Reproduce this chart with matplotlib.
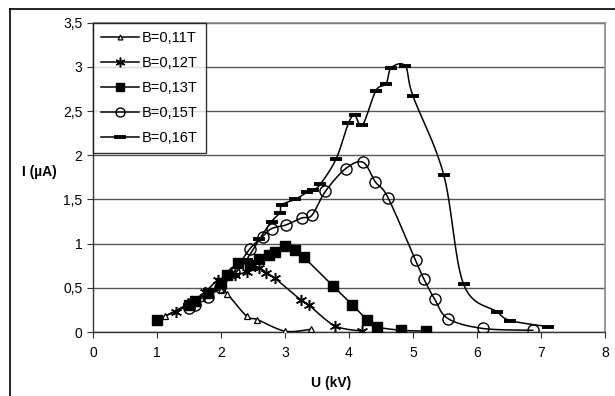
import matplotlib.pyplot as plt
import numpy as np
from matplotlib.lines import Line2D

plt.rcParams['font.family'] = ['Liberation Sans', 'DejaVu Sans']

# voltage U (kV) and current I (uA) for each magnetic field value
u_011 = [1.13, 1.5, 1.7, 2.0, 2.1, 2.4, 2.57, 3.0, 3.4]
i_011 = [0.18, 0.32, 0.38, 0.48, 0.43, 0.18, 0.14, 0.01, 0.03]

u_012 = [1.3, 1.55, 1.75, 1.96, 2.22, 2.4, 2.6, 2.7, 2.84, 3.25, 3.38, 3.78, 4.21]
i_012 = [0.23, 0.35, 0.45, 0.59, 0.64, 0.68, 0.72, 0.67, 0.61, 0.36, 0.30, 0.07, 0.01]

u_013 = [1.0, 1.5, 1.6, 1.8, 2.0, 2.1, 2.27, 2.45, 2.6, 2.75, 2.85, 3.0, 3.16, 3.29,
         3.75, 4.05, 4.28, 4.43, 4.81, 5.21]
i_013 = [0.14, 0.30, 0.35, 0.44, 0.55, 0.65, 0.78, 0.76, 0.83, 0.87, 0.91, 0.97, 0.93, 0.85,
         0.52, 0.31, 0.14, 0.06, 0.02, 0.01]

u_015 = [1.5, 1.6, 1.8, 1.98, 2.2, 2.45, 2.65, 2.79, 3.01, 3.26, 3.42, 3.63, 3.95, 4.22,
         4.41, 4.61, 5.04, 5.17, 5.34, 5.55, 6.09, 6.87]
i_015 = [0.27, 0.30, 0.40, 0.51, 0.68, 0.94, 1.08, 1.17, 1.21, 1.29, 1.32, 1.59, 1.85, 1.92,
         1.70, 1.52, 0.81, 0.60, 0.37, 0.15, 0.04, 0.02]

u_016 = [1.5, 1.8, 2.0, 2.2, 2.4, 2.6, 2.79, 2.92, 2.95, 3.16, 3.34, 3.44, 3.55, 3.8,
         3.99, 4.09, 4.21, 4.42, 4.58, 4.66, 4.88, 5.0, 5.48, 5.79, 6.31, 6.52, 7.11]
i_016 = [0.30, 0.42, 0.52, 0.65, 0.82, 1.05, 1.25, 1.35, 1.44, 1.50, 1.58, 1.61, 1.67, 1.96,
         2.36, 2.45, 2.34, 2.73, 2.81, 2.99, 3.01, 2.67, 1.78, 0.54, 0.23, 0.13, 0.06]

labels = ['B=0,11T', 'B=0,12T', 'B=0,13T', 'B=0,15T', 'B=0,16T']
x_ticks = [0, 1, 2, 3, 4, 5, 6, 7, 8]
y_ticks = [0, 0.5, 1, 1.5, 2, 2.5, 3, 3.5]


def smooth(x, y, n=12):
    # Catmull-Rom curve through the points, like a smoothed spreadsheet line
    p = np.column_stack([x, y]).astype(float)
    p = np.vstack([p[0], p, p[-1]])
    t = np.linspace(0, 1, n, endpoint=False)[:, None]
    out = []
    for k in range(1, len(p) - 2):
        p0, p1, p2, p3 = p[k - 1], p[k], p[k + 1], p[k + 2]
        seg = 0.5 * ((2 * p1) + (-p0 + p2) * t + (2 * p0 - 5 * p1 + 4 * p2 - p3) * t ** 2
                     + (-p0 + 3 * p1 - 3 * p2 + p3) * t ** 3)
        out.append(seg)
    out.append(p[-2][None, :])
    out = np.vstack(out)
    return out[:, 0], out[:, 1]


fig = plt.figure(figsize=(6.15, 3.96), dpi=100)
ax = fig.add_axes([0.1512, 0.1616, 0.8325, 0.7811])

series = [
    (u_011, i_011, dict(marker='^', ms=4.5, mfc='white', mec='black', mew=0.9)),
    (u_012, i_012, dict(marker=(6, 2, 0), ms=8, mec='black', mew=1.1)),
    (u_013, i_013, dict(marker='s', ms=7, mfc='black', mec='black')),
    (u_015, i_015, dict(marker='o', ms=8, mfc='none', mec='black', mew=1.0)),
    (u_016, i_016, dict(marker='_', ms=9, mec='black', mew=2.8)),
]
# legend keys use slightly smaller symbols
legend_ms = [3.5, 7, 6, 6.5, 8]

handles = []
for (u, i, mk), lab, lms in zip(series, labels, legend_ms):
    sx, sy = smooth(u, i)
    ax.plot(sx, sy, color='black', lw=1.1, zorder=3)
    ax.plot(u, i, ls='none', zorder=4, **mk)
    hk = dict(mk)
    hk['ms'] = lms
    handles.append(Line2D([], [], color='black', lw=1.1, **hk))

ax.set_xlim(0, 8)
ax.set_ylim(0, 3.5)
ax.set_xticks(x_ticks)
ax.set_yticks(y_ticks)
ax.set_xticklabels([str(v) for v in x_ticks])
ax.set_yticklabels([('%g' % v).replace('.', ',') for v in y_ticks])
ax.tick_params(labelsize=10, direction='out', length=4, width=0.8, color='#333333')
ax.tick_params(axis='x', pad=6)
ax.yaxis.grid(True, color='#555555', lw=1.0)
ax.set_axisbelow(True)
for s in ['top', 'right']:
    ax.spines[s].set_color('#888888')
    ax.spines[s].set_linewidth(1.2)
for s in ['left', 'bottom']:
    ax.spines[s].set_color('#333333')
    ax.spines[s].set_linewidth(1.0)

leg = ax.legend(handles, labels, loc='upper left', bbox_to_anchor=(0, 1), borderaxespad=0,
                fontsize=10.5, frameon=True, fancybox=False, edgecolor='black',
                handlelength=2.6, handletextpad=0.2, labelspacing=0.75, borderpad=0.57)
leg.get_frame().set_linewidth(1.0)
leg.set_zorder(10)

fig.text(22 / 615, 1 - 172 / 396, 'I (µA)', fontsize=10, fontweight='bold', va='center', ha='left')
fig.text(331 / 615, 1 - 383 / 396, 'U (kV)', fontsize=10, fontweight='bold', va='center', ha='center')

# chart area border
fig.add_artist(Line2D([10 / 615, 10 / 615], [1 - 9 / 396, 0], color='black', lw=1.2,
                      transform=fig.transFigure))
fig.add_artist(Line2D([10 / 615, 1], [1 - 9 / 396, 1 - 9 / 396], color='black', lw=1.2,
                      transform=fig.transFigure))

fig.savefig('out.png', dpi=100)
